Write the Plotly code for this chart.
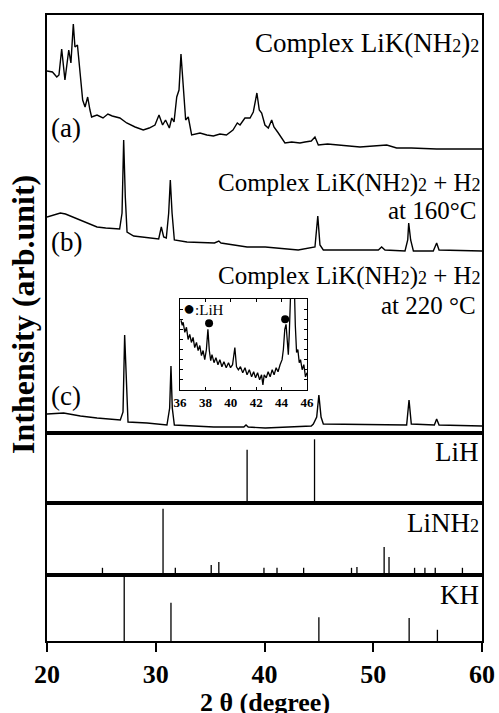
import plotly.graph_objects as go
from plotly.subplots import make_subplots

# ---------------- data (arbitrary units) ----------------
# pattern (a): Complex LiK(NH2)2
two_theta_a = [20.0, 20.5, 20.9, 21.1, 21.35, 21.65, 22.0, 22.2, 22.42, 22.57, 22.8, 23.03, 23.28, 23.5,
               23.74, 23.95, 24.1, 24.6, 25.15, 25.6, 26.0, 26.7, 27.33, 28.1, 28.85, 29.4, 29.93, 30.3,
               30.63, 30.9, 31.25, 31.47, 31.68, 31.93, 32.14, 32.32, 32.53, 32.75, 32.99, 33.3, 34.07,
               34.7, 35.3, 35.9, 36.5, 37.1, 37.5, 37.75, 38.2, 38.67, 38.97, 39.13, 39.3, 39.52, 39.74,
               40.04, 40.35, 40.66, 40.87, 41.27, 41.88, 42.5, 43.26, 43.72, 44.3, 44.64, 44.95, 45.8,
               46.64, 47.7, 48.78, 50.0, 51.24, 52.15, 53.5, 55.83, 58.0, 60.0]
intensity_a = [362, 361, 356, 358, 384, 353, 383, 370, 409, 386, 388, 363, 333, 326,
               336, 323, 316, 318, 315, 319, 317, 315, 310, 306, 303, 305, 308, 318,
               308, 313, 305, 315, 311, 336, 343, 379, 343, 313, 316, 298, 300,
               298, 297, 299, 298, 303, 310, 308, 315, 315, 321, 330, 340, 323, 320,
               308, 305, 313, 306, 300, 290, 291, 290, 291, 292, 296, 288, 289,
               288, 287, 286, 287, 288, 285, 285, 284, 284, 284]

# pattern (b): + H2 at 160 C
two_theta_b = [20.0, 20.7, 21.23, 21.7, 22.15, 22.8, 23.37, 24.0, 24.6, 25.4, 26.13, 26.68, 26.9, 27.05,
               27.2, 27.36, 27.97, 29.2, 30.27, 30.51, 30.73, 30.97, 31.19, 31.34, 31.5, 31.71, 32.87,
               35.4, 35.8, 36.0, 38.4, 40.07, 43.1, 44.64, 44.9, 45.1, 45.41, 50.47, 50.77, 51.08,
               52.92, 53.17, 53.26, 53.44, 53.69, 55.52, 55.83, 56.05, 59.66, 60.0]
intensity_b = [216, 218, 220, 219, 217, 214, 211, 208, 206, 205, 204, 204, 220, 293,
               236, 201, 197, 195, 194, 206, 196, 195, 220, 253, 220, 193, 191,
               190, 192, 190, 186, 186, 183, 186, 217, 188, 183, 183, 186, 183,
               182, 193, 210, 193, 182, 182, 190, 183, 182, 182]

# pattern (c): + H2 at 220 C
two_theta_c = [20.0, 21.53, 23.07, 24.6, 26.74, 26.99, 27.14, 27.3, 27.45, 29.2, 31.03, 31.28, 31.4,
               31.52, 31.71, 35.33, 38.1, 38.3, 38.5, 40.07, 44.3, 44.49, 44.8, 45.0, 45.2, 45.41,
               53.07, 53.29, 53.5, 55.62, 55.83, 56.05, 59.8, 60.0]
intensity_c = [19, 20, 17, 15, 13, 21, 98, 41, 11, 10, 8, 25, 67,
               25, 8, 6, 6, 8, 6, 5, 7, 9, 16, 38, 16, 9,
               8, 33, 9, 8, 14, 8, 7, 7]

# inset: pattern (c) between 36 and 46 degrees
two_theta_inset = [36.08, 36.18, 36.25, 36.38, 36.51, 36.64, 36.77, 36.9, 37.03, 37.16, 37.3, 37.43,
                   37.56, 37.69, 37.82, 37.95, 38.08, 38.2, 38.31, 38.42, 38.52, 38.68, 38.83, 38.99,
                   39.14, 39.3, 39.46, 39.64, 39.82, 39.98, 40.14, 40.32, 40.45, 40.6, 40.76, 40.94,
                   41.12, 41.28, 41.46, 41.64, 41.8, 41.95, 42.11, 42.27, 42.42, 42.53, 42.63, 42.79,
                   42.94, 43.1, 43.26, 43.41, 43.57, 43.72, 43.88, 44.04, 44.14, 44.25, 44.35, 44.45,
                   44.53, 44.61, 44.72, 44.85, 44.97, 45.08, 45.18, 45.28, 45.39, 45.49, 45.62, 45.75,
                   45.88, 46.0]
intensity_inset = [69, 64, 67, 57, 62, 50, 55, 47, 52, 42, 47, 39,
                   44, 34, 39, 30, 40, 60, 39, 29, 35, 27, 32, 25,
                   30, 23, 28, 22, 27, 22, 25, 42, 23, 20, 23, 17,
                   22, 15, 20, 13, 18, 12, 17, 10, 15, 5, 15, 12,
                   18, 13, 20, 15, 22, 18, 25, 30, 40, 60, 65, 44,
                   35, 57, 120, 150, 120, 64, 37, 40, 27, 30, 20, 25,
                   13, 17]
lih_mark_theta = [38.29, 44.28]
lih_mark_level = [66, 70]

# reference patterns (relative intensity, %)
lih_theta = [38.4, 44.6]
lih_int = [76, 91]
linh2_theta = [25.1, 30.67, 31.8, 35.1, 35.8, 39.95, 41.15, 43.6, 48.0, 48.5, 51.0, 51.45, 53.8, 54.75, 55.7, 58.2]
linh2_int = [10, 92, 10, 14, 18, 10, 10, 10, 10, 11, 39, 25, 10, 10, 10, 10]
kh_theta = [27.1, 31.4, 45.0, 53.3, 55.9]
kh_int = [100, 58, 36, 35, 17]

x_ticks = [20, 30, 40, 50, 60]
inset_ticks = [36, 38, 40, 42, 44, 46]

FONT = "Liberation Serif"
BLACK = "black"
SUB = "<span style='font-size:18px'>2</span>"


def sticks(pos, hts):
    xs, ys = [], []
    for p, h in zip(pos, hts):
        xs += [p, p, None]
        ys += [0, h, None]
    return xs, ys


fig = make_subplots(rows=4, cols=1, shared_xaxes=True, vertical_spacing=0,
                    row_heights=[418, 70, 72, 66])

line = dict(color=BLACK, width=1.4)
fig.add_trace(go.Scatter(x=two_theta_a, y=intensity_a, mode="lines", line=line), row=1, col=1)
fig.add_trace(go.Scatter(x=two_theta_b, y=intensity_b, mode="lines", line=line), row=1, col=1)
fig.add_trace(go.Scatter(x=two_theta_c, y=intensity_c, mode="lines", line=line), row=1, col=1)

for r, (pos, hts) in enumerate([(lih_theta, lih_int), (linh2_theta, linh2_int), (kh_theta, kh_int)], start=2):
    xs, ys = sticks(pos, hts)
    fig.add_trace(go.Scatter(x=xs, y=ys, mode="lines", line=dict(color=BLACK, width=1.3)), row=r, col=1)

# inset
fig.add_trace(go.Scatter(x=two_theta_inset, y=intensity_inset, mode="lines",
                         line=dict(color=BLACK, width=1.3), xaxis="x5", yaxis="y5"))
fig.add_trace(go.Scatter(x=lih_mark_theta, y=lih_mark_level, mode="markers",
                         marker=dict(color=BLACK, size=8), xaxis="x5", yaxis="y5"))

axis_common = dict(showline=True, linecolor=BLACK, linewidth=2, mirror=True,
                   showgrid=False, zeroline=False)
for i in range(1, 5):
    fig.update_xaxes(axis_common, range=[20, 60], row=i, col=1, ticks="", showticklabels=False)
fig.update_xaxes(row=4, col=1, ticks="outside", ticklen=9, tickwidth=2, tickcolor=BLACK,
                 showticklabels=True, tickvals=x_ticks,
                 tickfont=dict(family=FONT, size=26, color=BLACK, weight="bold"))
fig.update_yaxes(axis_common, row=1, col=1, range=[0, 418], showticklabels=False, ticks="")
for i in range(2, 5):
    fig.update_yaxes(axis_common, row=i, col=1, range=[0, 100], showticklabels=False, ticks="")

fig.update_layout(
    xaxis5=dict(domain=[0.3057, 0.5977], anchor="y5", range=[36, 46], showline=True,
                linecolor=BLACK, linewidth=1, mirror="ticks", ticks="inside", ticklen=3,
                tickcolor=BLACK, tickvals=inset_ticks, showgrid=False, zeroline=False,
                tickfont=dict(family=FONT, size=13, color=BLACK, weight="bold")),
    yaxis5=dict(domain=[0.401, 0.5463], anchor="x5", range=[0, 90], showline=True,
                linecolor=BLACK, linewidth=1, mirror="ticks", ticks="inside", ticklen=3,
                tickcolor=BLACK, dtick=10, showticklabels=False, showgrid=False, zeroline=False),
)

ann_font = dict(family=FONT, size=27, color=BLACK)
ann_font_s = dict(family=FONT, size=25, color=BLACK)
# y positions in the top panel's units; right-aligned labels placed at the panel's right edge
anns = [
    dict(x=0.997, y=390, xref="paper", yref="y", text=f"Complex LiK(NH{SUB}){SUB}", xanchor="right", font=ann_font),
    dict(x=20.15, y=305, xref="x", yref="y", text="(a)", xanchor="left", font=ann_font),
    dict(x=1.002, y=250, xref="paper", yref="y", text=f"Complex LiK(NH{SUB}){SUB} + H{SUB}", xanchor="right", font=ann_font_s),
    dict(x=0.99, y=223, xref="paper", yref="y", text="at 160°C", xanchor="right", font=ann_font_s),
    dict(x=20.15, y=191, xref="x", yref="y", text="(b)", xanchor="left", font=ann_font),
    dict(x=1.002, y=157, xref="paper", yref="y", text=f"Complex LiK(NH{SUB}){SUB} + H{SUB}", xanchor="right", font=ann_font_s),
    dict(x=0.99, y=128, xref="paper", yref="y", text="at 220 °C", xanchor="right", font=ann_font_s),
    dict(x=20.15, y=37, xref="x", yref="y", text="(c)", xanchor="left", font=ann_font),
    dict(x=0.997, y=73, xref="paper", yref="y2", text="LiH", xanchor="right", font=ann_font),
    dict(x=0.997, y=72, xref="paper", yref="y3", text=f"LiNH{SUB}", xanchor="right", font=ann_font),
    dict(x=0.997, y=70, xref="paper", yref="y4", text="KH", xanchor="right", font=ann_font),
]
for a in anns:
    fig.add_annotation(showarrow=False, yanchor="middle", **a)

fig.add_annotation(x=36.05, y=81, xref="x5", yref="y5", showarrow=False, xanchor="left", yanchor="middle",
                   text="<span style='font-size:20px'>●</span>:LiH",
                   font=dict(family=FONT, size=15, color=BLACK))

fig.add_annotation(x=0.5, y=-0.0985, xref="paper", yref="paper", showarrow=False,
                   text="2 θ (degree)", yanchor="middle",
                   font=dict(family=FONT, size=26, color=BLACK, weight="bold"))
fig.add_annotation(x=-0.055, y=0.521, xref="paper", yref="paper", showarrow=False,
                   text="Inthensity (arb.unit)", textangle=-90, xanchor="center", yanchor="middle",
                   font=dict(family=FONT, size=32, color=BLACK, weight="bold"))

fig.update_layout(width=499, height=713, margin=dict(l=47, r=17, t=15, b=72),
                  paper_bgcolor="white", plot_bgcolor="white", showlegend=False,
                  template="none")

fig.write_html("out.html")
